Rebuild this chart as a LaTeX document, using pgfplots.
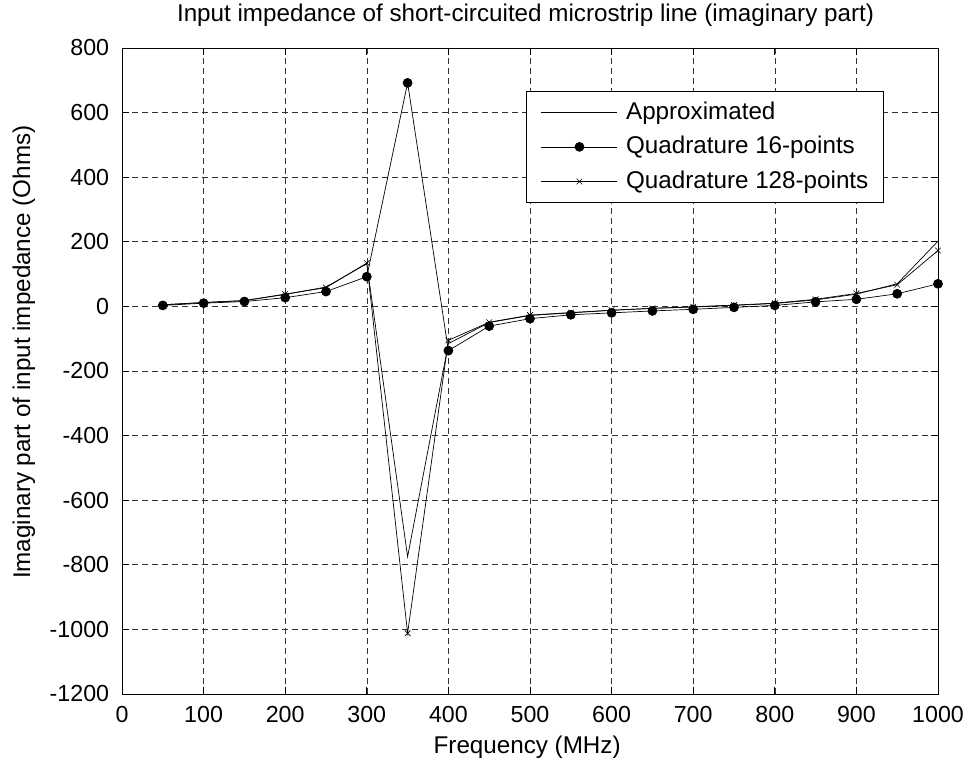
\documentclass[border=0pt]{standalone}
\usepackage{fontspec}
\setmainfont{Liberation Sans}
\usepackage{pgfplots}
\pgfplotsset{compat=1.18}
\begin{document}
\fontsize{24.3}{29}\selectfont
\begin{tikzpicture}
\path[use as bounding box] (-122bp,-66bp) rectangle (844bp,694bp);
\begin{axis}[
  at={(0,0)}, anchor=south west,
  scale only axis, width=816bp, height=646bp,
  xmin=0, xmax=1000, ymin=-1200, ymax=800,
  xtick={0,100,200,300,400,500,600,700,800,900,1000},
  xticklabels={0,100,200,300,400,500,600,700,800,900,1000},
  ytick={-1200,-1000,-800,-600,-400,-200,0,200,400,600,800},
  yticklabels={-1200,-1000,-800,-600,-400,-200,0,200,400,600,800},
  tick align=inside, xtick pos=both, ytick pos=both,
  major tick length=7bp,
  grid=major,
  major grid style={black!80, line width=0.6bp, dash pattern=on 6bp off 4bp},
  axis line style={line width=0.8bp},
  every tick/.style={black, line width=0.8bp},
  tick label style={font=\fontsize{23.3}{28}\selectfont},
  xticklabel style={inner sep=0pt, anchor=north, yshift=-12.5bp},
  yticklabel style={inner sep=0pt, anchor=east, xshift=-12.7bp},
  title={Input impedance of short-circuited microstrip line (imaginary part)},
  title style={at={(axis description cs:0.4945,1)}, anchor=base, yshift=21bp, inner sep=0pt},
  xlabel={Frequency (MHz)},
  xlabel style={at={(axis description cs:0.4965,0)}, anchor=base, yshift=-59bp, inner sep=0pt},
  ylabel={Imaginary part of input impedance (Ohms)},
  ylabel style={at={(axis description cs:-0.1127,0.529)}, anchor=base, inner sep=0pt},
  legend image code/.code={\draw[mark repeat=2,mark phase=2,#1] plot coordinates {(0bp,0bp) (38bp,0bp) (76bp,0bp)};},
  legend cell align=left,
  legend style={at={(axis description cs:0.4951,0.9339)}, anchor=north west,
    draw=black, line width=0.8bp, fill=white,
    nodes={inner sep=0pt}, column sep=8.3bp, row sep=13.5bp,
    inner xsep=14.7bp, inner ysep=10.5bp},
]
\addplot[black, line width=0.7bp] coordinates {
(50,5) (100,12) (150,18) (200,37) (250,60) (300,132) (350,-775) (400,-115)
(450,-50) (500,-28) (550,-20) (600,-12) (650,-6) (700,-2) (750,3) (800,9)
(850,20) (900,38) (950,70) (1000,202)};
\addlegendentry{Approximated}
\addplot[black, line width=0.7bp, mark=*, mark size=4.5bp, mark options={fill=black}] coordinates {
(50,3) (100,10) (150,15) (200,27) (250,46) (300,92) (350,692) (400,-137)
(450,-61) (500,-38) (550,-26) (600,-20) (650,-14) (700,-9) (750,-3) (800,3)
(850,14) (900,22) (950,39) (1000,70)};
\addlegendentry{Quadrature 16-points}
\addplot[black, line width=0.7bp, mark=x, mark size=4bp, mark options={line width=0.6bp}] coordinates {
(50,5) (100,12) (150,18) (200,38) (250,58) (300,134) (350,-1012) (400,-105)
(450,-49) (500,-27) (550,-19) (600,-12) (650,-6) (700,-1) (750,4) (800,10)
(850,22) (900,40) (950,67) (1000,173)};
\addlegendentry{Quadrature 128-points}
\end{axis}
\end{tikzpicture}
\end{document}
